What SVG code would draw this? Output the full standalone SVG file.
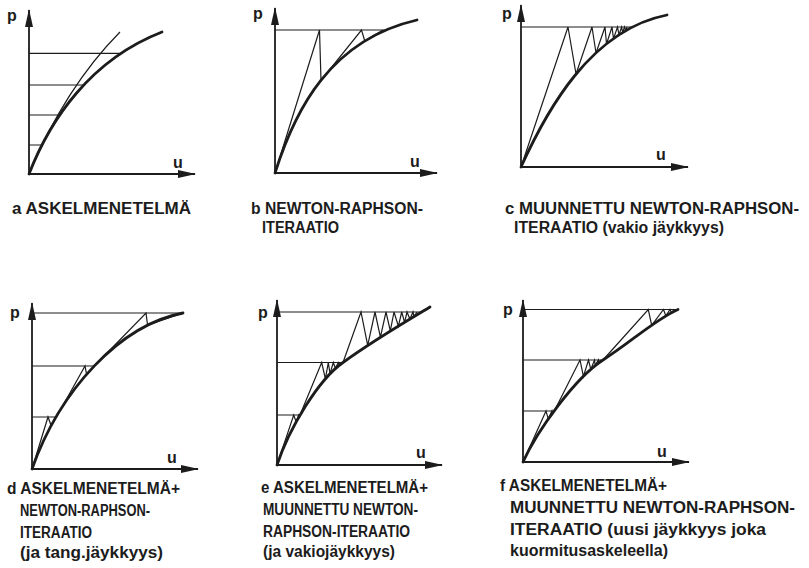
<svg xmlns="http://www.w3.org/2000/svg" width="809" height="568" viewBox="0 0 809 568">
<style>
.ax{stroke:#1c1c1c;stroke-width:1.8;fill:none}
.cv{stroke:#1c1c1c;stroke-width:2.8;fill:none;stroke-linecap:round}
.tn{stroke:#1c1c1c;stroke-width:1.2;fill:none;stroke-linejoin:miter}
.lb{font-family:"Liberation Sans",Arial,sans-serif;font-weight:bold;font-size:16px;fill:#1c1c1c}
.al{font-family:"Liberation Sans",Arial,sans-serif;font-weight:bold;font-size:16px;fill:#1c1c1c}
</style>
<defs>
<marker id="arr" viewBox="0 0 18 8" refX="17" refY="4" markerWidth="18" markerHeight="8" markerUnits="userSpaceOnUse" orient="auto-start-reverse">
<path d="M0,0 L18,4 L0,8 Z" fill="#1c1c1c"/>
</marker>
</defs>
<rect width="809" height="568" fill="#ffffff"/>

<g id="panel-a">
<path class="ax" d="M29,10 L29,174 L195,174" marker-start="url(#arr)" marker-end="url(#arr)"/>
<path class="cv" d="M29,174 C50,120 90,60 162,32"/>
<path class="tn" d="M29,174 Q65.5,87 120,32"/>
<path class="tn" d="M29,53.3 H121.5 M29,85 H83.5 M29,115 H60 M29,145 H42"/>
<text class="al" x="7" y="21">p</text>
<text class="al" x="173" y="168">u</text>
<text class="lb" x="12" y="214" textLength="179" lengthAdjust="spacingAndGlyphs">a ASKELMENETELMÄ</text>
</g>

<g id="panel-b">
<path class="ax" d="M275,8 L275,173 L437,173" marker-start="url(#arr)" marker-end="url(#arr)"/>
<path class="cv" d="M275,173 C295,110 330,40 417,20"/>
<path class="tn" d="M275,30 H386"/>
<path class="tn" d="M275,173 L319.5,30 L321,80.5 L361.5,30 L364.8,41 L383,30"/>
<text class="al" x="253" y="19">p</text>
<text class="al" x="410" y="167">u</text>
<text class="lb" x="251" y="214" textLength="172" lengthAdjust="spacingAndGlyphs">b NEWTON-RAPHSON-</text>
<text class="lb" x="262" y="233" textLength="77" lengthAdjust="spacingAndGlyphs">ITERAATIO</text>
</g>

<g id="panel-c">
<path class="ax" d="M521,5 L521,167 L688,167" marker-start="url(#arr)" marker-end="url(#arr)"/>
<path class="cv" d="M521,167 C546,112 590,30 667,15"/>
<path class="tn" d="M521,27 H633"/>
<path class="tn" d="M521,167 L568,27 L576,74 L592,27 L596,53 L605,27 L606.5,44 L612,27 L613.5,38.6 L617.5,27 L619,34.8 L621.6,27 L622.7,32.5 L624.5,27 L625.7,30.7 L627,27"/>
<text class="al" x="502" y="19">p</text>
<text class="al" x="656" y="160">u</text>
<text class="lb" x="505" y="214" textLength="294" lengthAdjust="spacingAndGlyphs">c MUUNNETTU NEWTON-RAPHSON-</text>
<text class="lb" x="514" y="233" textLength="210" lengthAdjust="spacingAndGlyphs">ITERAATIO (vakio jäykkyys)</text>
</g>

<g id="panel-d">
<path class="ax" d="M32,303 L32,469 L198,469" marker-start="url(#arr)" marker-end="url(#arr)"/>
<path class="cv" d="M32,469 C60,390 120,325 183,313"/>
<path class="tn" d="M32,313 H183 M32,366 H94.4 M32,417 H56.5"/>
<path class="tn" d="M32,469 L48,417 L51.2,425.8 L55.5,417"/>
<path class="tn" d="M56.5,417 L85,366 L86.6,374.4 L94.4,366"/>
<path class="tn" d="M94.4,366 L146,313 L147.6,325.3 L183,313"/>
<text class="al" x="10" y="318">p</text>
<text class="al" x="167" y="463">u</text>
<text class="lb" x="7" y="494" textLength="173" lengthAdjust="spacingAndGlyphs">d ASKELMENETELMÄ+</text>
<text class="lb" x="20" y="516" textLength="130" lengthAdjust="spacingAndGlyphs">NEWTON-RAPHSON-</text>
<text class="lb" x="20" y="538" textLength="72" lengthAdjust="spacingAndGlyphs">ITERAATIO</text>
<text class="lb" x="20" y="558" textLength="143" lengthAdjust="spacingAndGlyphs">(ja tang.jäykkyys)</text>
</g>

<g id="panel-e">
<path class="ax" d="M277,300 L277,465 L442,465" marker-start="url(#arr)" marker-end="url(#arr)"/>
<path class="cv" d="M277,465 C289,429 318,380 343,362.5 C371,342 405,322 430,307"/>
<path class="tn" d="M277,312 H421.5 M277,362.5 H343 M277,415 H300"/>
<path class="tn" d="M277,465 L293.7,415 L296.2,422 L298.7,415 L299.5,416.5"/>
<path class="tn" d="M300,415 L321.7,362.5 L325.4,378.9 L328.3,362.5 L330,373.7 L333.3,362.5 L335.4,368.3 L338.3,362.5 L339.5,364.7 L341.5,362.5"/>
<path class="tn" d="M343,362.5 L361,312 L367.7,345.3 L375,312 L380.4,337.1 L386,312 L390.3,330.9 L394,312 L398.4,326.1 L401.7,312 L404.6,322.3 L407,312 L409.9,319.1 L413,312 L414,316.5 L417,312"/>
<text class="al" x="258" y="318">p</text>
<text class="al" x="416" y="458">u</text>
<text class="lb" x="261" y="493" textLength="167" lengthAdjust="spacingAndGlyphs">e ASKELMENETELMÄ+</text>
<text class="lb" x="263" y="515" textLength="155" lengthAdjust="spacingAndGlyphs">MUUNNETTU NEWTON-</text>
<text class="lb" x="263" y="537" textLength="147" lengthAdjust="spacingAndGlyphs">RAPHSON-ITERAATIO</text>
<text class="lb" x="263" y="557" textLength="132" lengthAdjust="spacingAndGlyphs">(ja vakiojäykkyys)</text>
</g>

<g id="panel-f">
<path class="ax" d="M523,300 L523,462 L689,462" marker-start="url(#arr)" marker-end="url(#arr)"/>
<path class="cv" d="M523,462 C537,431 575,378 603,360 C631,342 656,319 678,309.5"/>
<path class="tn" d="M523,309.5 H678 M523,360 H603 M523,411 H554.3"/>
<path class="tn" d="M523,462 L546,411 L548.3,419.1 L551.9,411 L552.3,414 L554,411"/>
<path class="tn" d="M554.3,411 L580,360 L583.4,376.4 L588.5,360 L590.8,369.5 L594.5,360 L595.3,365.6 L598.3,360 L598.7,363 L600.5,360"/>
<path class="tn" d="M603,360 L648.3,309.5 L651.7,325.3 L663.5,309.5 L665.9,315.9 L670,309.5 L671.5,312.6 L674.5,309.5"/>
<text class="al" x="503" y="315">p</text>
<text class="al" x="657" y="457">u</text>
<text class="lb" x="500" y="491" textLength="167" lengthAdjust="spacingAndGlyphs">f ASKELMENETELMÄ+</text>
<text class="lb" x="510" y="513" textLength="285" lengthAdjust="spacingAndGlyphs">MUUNNETTU NEWTON-RAPHSON-</text>
<text class="lb" x="510" y="535" textLength="256" lengthAdjust="spacingAndGlyphs">ITERAATIO (uusi jäykkyys joka</text>
<text class="lb" x="510" y="556" textLength="158" lengthAdjust="spacingAndGlyphs">kuormitusaskeleella)</text>
</g>
</svg>
